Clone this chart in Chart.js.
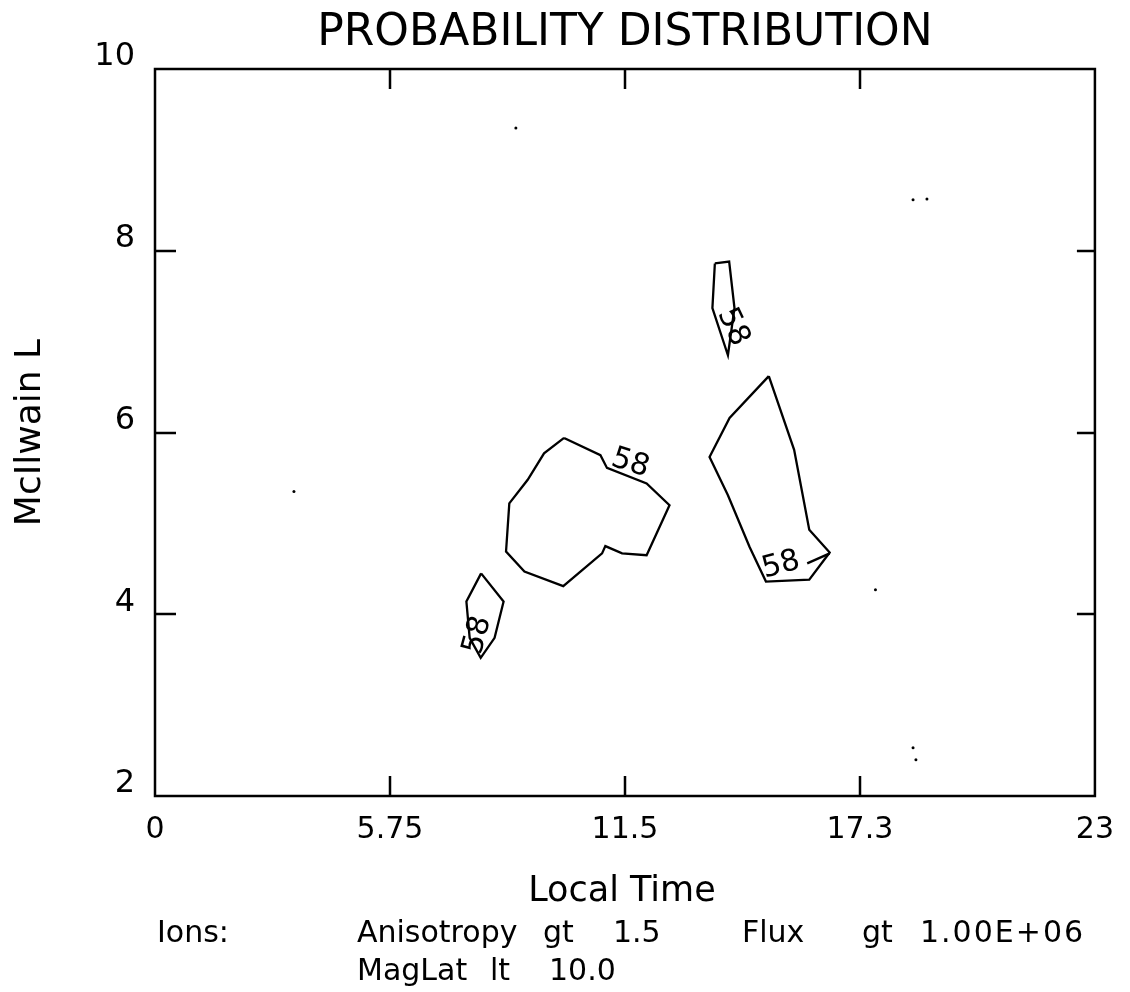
<!DOCTYPE html>
<html>
<head>
<meta charset="utf-8">
<script src="https://cdn.jsdelivr.net/npm/chart.js@4.4.1/dist/chart.umd.min.js"></script>
<style>
  html,body{margin:0;padding:0;background:#fff;}
  canvas{display:block;}
</style>
</head>
<body>
<canvas id="c" width="1130" height="992"></canvas>
<script>
// ---------- data ----------
const xTickValues = [0, 5.75, 11.5, 17.25, 23];
const xTickLabels = ['0', '5.75', '11.5', '17.3', '23'];
const yTickValues = [2, 4, 6, 8, 10];
const yTickLabels = ['2', '4', '6', '8', '10'];

// contour polygons (Local Time, McIlwain L)
const centralX = [10.01, 9.52, 9.12, 8.67, 8.59, 9.04, 9.99, 10.94, 11.02, 11.43, 12.03, 12.59, 12.03, 11.06, 10.90];
const centralY = [5.94, 5.77, 5.48, 5.22, 4.69, 4.47, 4.31, 4.67, 4.75, 4.67, 4.65, 5.20, 5.44, 5.61, 5.75];

const lowLeftX = [7.98, 8.53, 8.31, 7.97, 7.70, 7.62];
const lowLeftY = [4.45, 4.14, 3.74, 3.52, 3.74, 4.14];

const upperX = [13.70, 14.05, 14.18, 14.02, 13.64];
const upperY = [7.86, 7.88, 7.37, 6.85, 7.37];

const rightX = [15.02, 14.06, 13.57, 14.02, 14.55, 14.95, 16.01, 16.51, 16.01, 15.64];
const rightY = [6.62, 6.16, 5.73, 5.31, 4.74, 4.36, 4.38, 4.68, 4.93, 5.81];

const dashX = [15.96, 16.51];
const dashY = [4.56, 4.67];

// contour level labels
const levelText = ['58', '58', '58', '58'];
const levelX = [11.63, 7.90, 14.14, 15.32];
const levelY = [5.66, 3.77, 7.16, 4.54];
const levelAngle = [18, -75, 65, -15];

// stray specks in the plot
const speckX = [8.83, 18.55, 18.89, 3.40, 17.63, 18.55, 18.62];
const speckY = [9.35, 8.56, 8.57, 5.35, 4.27, 2.53, 2.40];

const titleText = 'PROBABILITY DISTRIBUTION';
const xTitle = 'Local Time';
const yTitle = 'McIlwain L';

// ---------- helpers ----------
function pts(xs, ys, close) {
  const p = xs.map((x, i) => ({x: x, y: ys[i]}));
  if (close) p.push({x: xs[0], y: ys[0]});
  return p;
}
const FONT = '"DejaVu Sans", "Liberation Sans", sans-serif';
const lineDs = (data) => ({
  data: data, showLine: true, borderColor: '#000', borderWidth: 2.3,
  pointRadius: 0, fill: false, tension: 0
});

const decor = {
  id: 'decor',
  afterDraw(chart) {
    const ctx = chart.ctx;
    const a = chart.chartArea;
    const xs = chart.scales.x, ys = chart.scales.y;
    ctx.save();
    ctx.strokeStyle = '#000';
    ctx.lineWidth = 2.5;
    ctx.strokeRect(a.left, a.top, a.right - a.left, a.bottom - a.top);
    ctx.beginPath();
    xTickValues.slice(1, -1).forEach(v => {
      const px = Math.round(xs.getPixelForValue(v));
      ctx.moveTo(px, a.bottom); ctx.lineTo(px, a.bottom - 20);
      ctx.moveTo(px, a.top); ctx.lineTo(px, a.top + 20);
    });
    yTickValues.slice(1, -1).forEach(v => {
      const py = Math.round(ys.getPixelForValue(v));
      ctx.moveTo(a.left, py); ctx.lineTo(a.left + 21, py);
      ctx.moveTo(a.right, py); ctx.lineTo(a.right - 18, py);
    });
    ctx.stroke();

    // contour labels
    ctx.fillStyle = '#000';
    ctx.font = '30px ' + FONT;
    ctx.textAlign = 'center';
    ctx.textBaseline = 'middle';
    levelText.forEach((t, i) => {
      ctx.save();
      ctx.translate(xs.getPixelForValue(levelX[i]), ys.getPixelForValue(levelY[i]));
      ctx.rotate(levelAngle[i] * Math.PI / 180);
      ctx.fillText(t, 0, 0);
      ctx.restore();
    });

    // title
    ctx.textBaseline = 'alphabetic';
    ctx.font = '44px ' + FONT;
    ctx.fillText(titleText, (a.left + a.right) / 2, 45);
    // x title
    ctx.font = '35px ' + FONT;
    ctx.fillText(xTitle, (a.left + a.right) / 2 - 3, 901);
    // y title
    ctx.save();
    ctx.translate(40, (a.top + a.bottom) / 2);
    ctx.rotate(-Math.PI / 2);
    ctx.font = '36px ' + FONT;
    ctx.fillText(yTitle, 0, 0);
    ctx.restore();
    // footnotes
    ctx.textAlign = 'left';
    ctx.font = '30px ' + FONT;
    ctx.fillText('Ions:', 157, 942);
    ctx.fillText('Anisotropy', 357, 942);
    ctx.fillText('gt', 543, 942);
    ctx.fillText('1.5', 613, 942);
    ctx.fillText('Flux', 742, 942);
    ctx.fillText('gt', 862, 942);
    ctx.save();
    ctx.letterSpacing = '2px';
    ctx.fillText('1.00E+06', 920, 942);
    ctx.restore();
    ctx.fillText('MagLat', 357, 980);
    ctx.fillText('lt', 490, 980);
    ctx.fillText('10.0', 549, 980);
    ctx.restore();
  }
};

new Chart(document.getElementById('c'), {
  type: 'scatter',
  data: {
    datasets: [
      lineDs(pts(centralX, centralY, true)),
      lineDs(pts(lowLeftX, lowLeftY, true)),
      lineDs(pts(upperX, upperY, true)),
      lineDs(pts(rightX, rightY, true)),
      lineDs(pts(dashX, dashY, false)),
      {data: pts(speckX, speckY, false), showLine: false, pointRadius: 1.5,
       pointBackgroundColor: '#000', pointBorderWidth: 0}
    ]
  },
  options: {
    responsive: false,
    animation: false,
    devicePixelRatio: 1,
    layout: {padding: {top: 69, right: 29, left: 0, bottom: 0}},
    plugins: {legend: {display: false}, tooltip: {enabled: false}, title: {display: false}},
    scales: {
      x: {
        type: 'linear', min: 0, max: 23, position: 'bottom',
        afterBuildTicks: s => { s.ticks = xTickValues.map(v => ({value: v})); },
        afterFit: s => { s.height = 196; },
        grid: {display: false, drawTicks: false}, border: {display: false},
        ticks: {
          autoSkip: false, maxRotation: 0, padding: 16, color: '#000',
          font: {family: FONT, size: 30},
          callback: (v, i) => xTickLabels[i]
        }
      },
      y: {
        type: 'linear', min: 2, max: 10,
        afterBuildTicks: s => { s.ticks = yTickValues.map(v => ({value: v})); },
        afterFit: s => { s.width = 155; },
        grid: {display: false, drawTicks: false}, border: {display: false},
        ticks: {
          autoSkip: false, padding: 20, color: '#000', labelOffset: -12,
          font: {family: FONT, size: 32},
          callback: (v, i) => yTickLabels[i]
        }
      }
    }
  },
  plugins: [decor]
});
</script>
</body>
</html>
